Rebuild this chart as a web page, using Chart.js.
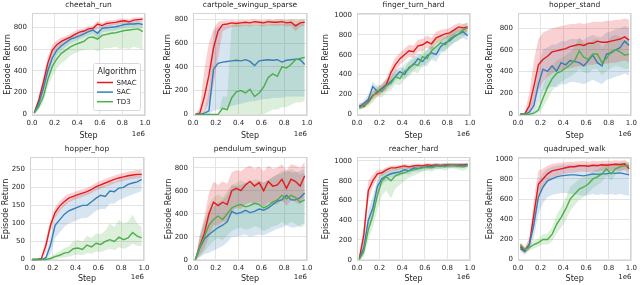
<!DOCTYPE html>
<html>
<head>
<meta charset="utf-8">
<script src="https://cdn.jsdelivr.net/npm/chart.js@4.4.0/dist/chart.umd.min.js"></script>
<style>
  body { margin: 0; background: #fff; width: 640px; height: 285px; position: relative; overflow: hidden; }
  canvas { position: absolute; }
</style>
</head>
<body>
<canvas id="c0" width="160" height="142" style="left:0;top:0"></canvas>
<canvas id="c1" width="160" height="142" style="left:160px;top:0"></canvas>
<canvas id="c2" width="160" height="142" style="left:320px;top:0"></canvas>
<canvas id="c3" width="160" height="142" style="left:480px;top:0"></canvas>
<canvas id="c4" width="160" height="143" style="left:0;top:142px"></canvas>
<canvas id="c5" width="160" height="143" style="left:160px;top:142px"></canvas>
<canvas id="c6" width="160" height="143" style="left:320px;top:142px"></canvas>
<canvas id="c7" width="160" height="143" style="left:480px;top:142px"></canvas>
<script>
// x positions of the evaluations (in units of 1e6 steps)
const steps = [0.02, 0.06, 0.10, 0.14, 0.18, 0.22, 0.26, 0.30, 0.34, 0.38, 0.42, 0.46, 0.50,
               0.54, 0.58, 0.62, 0.66, 0.70, 0.74, 0.78, 0.82, 0.86, 0.90, 0.94, 0.98];
const algorithms = ["SMAC", "SAC", "TD3"];
const xTicks = [0, 0.2, 0.4, 0.6, 0.8, 1.0];
const yTicks800 = [0, 200, 400, 600, 800];
const yTicks1000 = [0, 200, 400, 600, 800, 1000];
const yTicks250 = [0, 50, 100, 150, 200, 250];

// cheetah_run
const cheetahSmac = [15, 130, 290, 470, 590, 640, 670, 690, 710, 735, 755, 765, 785, 790, 830, 815, 835, 840, 845, 855, 860, 850, 865, 870, 875];
const cheetahSmacLo = [5, 90, 230, 400, 540, 600, 635, 660, 680, 705, 725, 740, 760, 765, 790, 790, 805, 815, 820, 830, 835, 825, 840, 845, 850];
const cheetahSmacHi = [25, 170, 350, 530, 640, 680, 705, 720, 740, 765, 785, 790, 810, 815, 860, 840, 860, 865, 870, 880, 880, 875, 890, 890, 895];
const cheetahSac = [12, 100, 235, 400, 520, 590, 630, 660, 690, 705, 720, 740, 760, 775, 745, 790, 795, 800, 805, 815, 825, 830, 830, 835, 825];
const cheetahSacLo = [4, 60, 180, 340, 460, 540, 585, 620, 650, 670, 690, 705, 725, 740, 690, 755, 760, 765, 770, 785, 795, 800, 800, 805, 795];
const cheetahSacHi = [20, 140, 290, 460, 580, 640, 675, 700, 725, 740, 750, 770, 790, 805, 790, 820, 825, 830, 835, 845, 850, 855, 855, 860, 850];
const cheetahTd3 = [10, 70, 160, 320, 440, 510, 560, 590, 620, 640, 655, 670, 705, 710, 690, 725, 735, 745, 750, 760, 770, 775, 780, 785, 760];
const cheetahTd3Lo = [2, 40, 110, 250, 350, 420, 470, 500, 540, 560, 580, 590, 600, 600, 580, 600, 610, 610, 620, 600, 610, 600, 620, 610, 590];
const cheetahTd3Hi = [18, 100, 220, 390, 520, 590, 640, 670, 690, 710, 720, 740, 760, 770, 760, 780, 790, 800, 800, 810, 820, 820, 830, 830, 820];

// cartpole_swingup_sparse
const cartpoleSmac = [0, 10, 150, 330, 560, 700, 755, 760, 770, 765, 770, 775, 770, 780, 775, 770, 780, 775, 775, 780, 770, 775, 745, 770, 775];
const cartpoleSmacLo = [0, 0, 20, 100, 250, 480, 700, 720, 735, 735, 740, 745, 740, 750, 745, 740, 750, 745, 745, 750, 740, 745, 700, 740, 745];
const cartpoleSmacHi = [0, 60, 380, 600, 720, 780, 790, 790, 795, 790, 795, 795, 795, 800, 795, 795, 800, 795, 800, 800, 795, 800, 790, 795, 800];
const cartpoleSac = [0, 0, 10, 30, 380, 430, 440, 445, 450, 455, 450, 460, 445, 410, 450, 455, 460, 455, 460, 440, 455, 460, 465, 460, 420];
const cartpoleSacLo = [0, 0, 0, 0, 30, 40, 50, 60, 70, 80, 90, 100, 110, 110, 120, 130, 130, 140, 140, 140, 150, 150, 150, 150, 150];
const cartpoleSacHi = [0, 0, 30, 200, 700, 740, 745, 750, 750, 750, 750, 750, 750, 750, 750, 755, 755, 760, 760, 760, 760, 760, 760, 760, 760];
const cartpoleTd3 = [0, 0, 0, 0, 0, 0, 50, 40, 140, 190, 200, 180, 210, 150, 180, 230, 310, 340, 320, 400, 390, 420, 460, 470, 480];
const cartpoleTd3Lo = [0, 0, 0, 0, 0, 0, 0, 0, 0, 0, 0, 0, 0, 0, 0, 0, 20, 40, 40, 60, 60, 80, 100, 100, 110];
const cartpoleTd3Hi = [0, 0, 0, 0, 0, 0, 150, 150, 760, 770, 770, 775, 780, 780, 780, 785, 790, 790, 790, 795, 795, 800, 800, 800, 800];

// finger_turn_hard
const fingerSmac = [90, 80, 130, 190, 220, 260, 300, 420, 500, 560, 600, 640, 630, 690, 700, 730, 710, 770, 790, 810, 820, 850, 880, 870, 880];
const fingerSmacLo = [60, 55, 100, 150, 180, 210, 240, 350, 430, 500, 540, 580, 570, 630, 640, 670, 650, 710, 730, 760, 770, 800, 830, 820, 830];
const fingerSmacHi = [120, 110, 170, 230, 260, 310, 360, 480, 570, 620, 660, 700, 690, 750, 760, 790, 770, 830, 850, 860, 870, 900, 920, 910, 920];
const fingerSac = [70, 110, 150, 280, 230, 260, 290, 330, 380, 430, 400, 470, 500, 560, 530, 590, 620, 600, 680, 720, 740, 780, 810, 830, 790];
const fingerSacLo = [50, 80, 110, 220, 190, 220, 250, 280, 330, 380, 350, 410, 440, 490, 470, 520, 550, 530, 610, 650, 680, 720, 750, 770, 740];
const fingerSacHi = [95, 140, 200, 330, 270, 300, 340, 380, 430, 480, 460, 530, 560, 620, 590, 650, 690, 670, 740, 780, 800, 840, 860, 880, 850];
const fingerTd3 = [60, 90, 120, 180, 240, 230, 290, 310, 380, 360, 430, 460, 510, 490, 580, 560, 640, 680, 720, 700, 760, 790, 810, 850, 870];
const fingerTd3Lo = [40, 60, 80, 120, 180, 170, 220, 240, 300, 290, 350, 380, 430, 410, 500, 480, 560, 600, 640, 620, 690, 720, 740, 780, 800];
const fingerTd3Hi = [90, 120, 160, 240, 300, 290, 360, 380, 460, 430, 510, 540, 590, 570, 660, 640, 720, 760, 800, 780, 830, 860, 880, 910, 930];

// hopper_stand
const standSmac = [0, 5, 80, 260, 460, 510, 540, 580, 590, 600, 610, 630, 640, 650, 640, 660, 660, 680, 670, 670, 680, 690, 700, 720, 690];
const standSmacLo = [0, 0, 20, 100, 220, 300, 350, 380, 400, 410, 420, 430, 440, 450, 440, 460, 460, 470, 470, 470, 480, 480, 490, 500, 480];
const standSmacHi = [0, 20, 200, 500, 700, 760, 780, 800, 810, 820, 830, 840, 840, 850, 840, 850, 860, 860, 860, 870, 870, 880, 880, 890, 880];
const standSac = [0, 0, 20, 80, 280, 420, 400, 450, 400, 480, 460, 500, 490, 480, 450, 500, 550, 480, 450, 560, 570, 600, 620, 680, 640];
const standSacLo = [0, 0, 0, 20, 100, 220, 240, 260, 250, 280, 280, 300, 300, 290, 280, 300, 320, 300, 280, 320, 330, 350, 360, 380, 360];
const standSacHi = [0, 0, 60, 200, 450, 600, 620, 650, 650, 680, 680, 700, 700, 700, 690, 720, 740, 720, 720, 760, 770, 790, 800, 820, 800];
const standTd3 = [0, 0, 0, 10, 40, 150, 250, 330, 380, 400, 430, 460, 500, 590, 530, 510, 560, 560, 480, 520, 580, 600, 580, 550, 560];
const standTd3Lo = [0, 0, 0, 0, 10, 60, 140, 220, 270, 300, 330, 350, 380, 420, 390, 380, 420, 420, 360, 400, 430, 450, 440, 420, 420];
const standTd3Hi = [0, 0, 0, 30, 90, 260, 380, 450, 500, 520, 550, 580, 620, 720, 660, 640, 690, 700, 620, 660, 720, 740, 720, 690, 700];

// hopper_hop
const hopSmac = [0, 0, 3, 40, 95, 130, 148, 160, 170, 175, 180, 184, 188, 194, 202, 207, 212, 217, 222, 226, 229, 232, 234, 236, 236];
const hopSmacLo = [0, 0, 0, 20, 78, 115, 134, 148, 159, 164, 169, 174, 178, 184, 191, 196, 201, 206, 211, 215, 218, 221, 223, 225, 226];
const hopSmacHi = [0, 0, 6, 58, 110, 145, 162, 174, 182, 186, 191, 195, 199, 205, 213, 218, 223, 228, 233, 237, 240, 243, 246, 248, 248];
const hopSac = [0, 0, 0, 5, 40, 95, 110, 125, 135, 140, 145, 150, 150, 160, 170, 178, 175, 190, 188, 198, 200, 208, 212, 215, 222];
const hopSacLo = [0, 0, 0, 0, 15, 60, 75, 90, 100, 105, 110, 115, 115, 125, 135, 140, 140, 155, 155, 165, 170, 175, 180, 185, 190];
const hopSacHi = [0, 0, 0, 12, 65, 125, 140, 155, 165, 172, 178, 182, 185, 192, 200, 206, 205, 215, 215, 222, 225, 230, 232, 235, 240];
const hopTd3 = [0, 0, 0, 0, 3, 8, 12, 18, 20, 30, 32, 28, 40, 35, 45, 42, 50, 55, 50, 62, 55, 60, 75, 65, 60];
const hopTd3Lo = [0, 0, 0, 0, 0, 2, 4, 6, 8, 12, 14, 12, 18, 16, 22, 20, 26, 30, 26, 34, 30, 34, 44, 38, 36];
const hopTd3Hi = [0, 0, 0, 0, 8, 16, 22, 32, 36, 50, 55, 50, 66, 60, 72, 70, 80, 100, 90, 110, 100, 105, 125, 100, 90];

// pendulum_swingup
const pendulumSmac = [0, 120, 230, 400, 500, 470, 500, 480, 600, 620, 600, 650, 680, 640, 670, 600, 680, 640, 650, 700, 620, 700, 680, 640, 730];
const pendulumSmacLo = [0, 40, 100, 200, 300, 300, 330, 330, 420, 450, 440, 480, 500, 480, 500, 460, 500, 480, 480, 520, 470, 520, 500, 480, 540];
const pendulumSmacHi = [0, 220, 380, 580, 680, 650, 680, 660, 760, 780, 770, 800, 820, 790, 810, 770, 820, 790, 800, 830, 780, 830, 820, 800, 850];
const pendulumSac = [0, 100, 180, 220, 250, 280, 300, 330, 420, 400, 410, 430, 410, 420, 440, 430, 450, 480, 510, 520, 560, 520, 520, 540, 580];
const pendulumSacLo = [0, 20, 50, 60, 80, 100, 120, 150, 200, 200, 210, 220, 200, 210, 220, 210, 230, 250, 270, 280, 300, 280, 280, 300, 320];
const pendulumSacHi = [0, 200, 330, 420, 460, 500, 520, 560, 650, 640, 650, 670, 650, 660, 680, 670, 690, 720, 740, 750, 780, 760, 760, 770, 800];
const pendulumTd3 = [0, 110, 200, 300, 350, 380, 350, 400, 450, 470, 480, 460, 470, 490, 480, 450, 470, 500, 520, 560, 530, 560, 540, 500, 520];
const pendulumTd3Lo = [0, 30, 70, 120, 160, 190, 170, 210, 250, 270, 280, 260, 270, 290, 280, 250, 270, 290, 300, 330, 300, 330, 310, 280, 300];
const pendulumTd3Hi = [0, 200, 340, 480, 540, 570, 540, 600, 650, 670, 690, 670, 680, 700, 690, 670, 690, 720, 740, 780, 760, 790, 770, 740, 760];

// reacher_hard
const reacherSmac = [10, 250, 700, 800, 870, 880, 910, 930, 930, 940, 950, 940, 950, 955, 950, 960, 955, 960, 955, 960, 960, 955, 960, 960, 965];
const reacherSmacLo = [0, 150, 600, 740, 830, 850, 880, 900, 905, 915, 925, 915, 925, 930, 925, 935, 930, 935, 930, 935, 935, 930, 935, 935, 940];
const reacherSmacHi = [20, 350, 800, 860, 910, 910, 940, 955, 955, 960, 970, 965, 970, 975, 970, 980, 975, 980, 975, 980, 980, 975, 980, 980, 985];
const reacherSac = [5, 120, 400, 520, 740, 820, 850, 870, 880, 890, 910, 900, 930, 925, 935, 940, 945, 950, 945, 955, 950, 960, 950, 955, 960];
const reacherSacLo = [0, 60, 300, 420, 650, 760, 800, 830, 840, 850, 870, 860, 890, 890, 900, 910, 915, 920, 915, 930, 925, 935, 925, 930, 935];
const reacherSacHi = [15, 200, 500, 640, 820, 870, 890, 905, 915, 925, 940, 935, 955, 955, 960, 965, 970, 975, 970, 975, 975, 980, 975, 980, 980];
const reacherTd3 = [0, 80, 300, 450, 650, 800, 840, 800, 850, 870, 880, 900, 910, 920, 930, 935, 930, 945, 950, 940, 955, 950, 945, 940, 950];
const reacherTd3Lo = [0, 30, 200, 330, 500, 650, 700, 620, 720, 760, 800, 830, 850, 870, 890, 900, 890, 910, 920, 900, 925, 920, 910, 900, 920];
const reacherTd3Hi = [10, 150, 400, 570, 780, 900, 920, 920, 930, 940, 940, 950, 955, 960, 965, 970, 965, 975, 975, 970, 980, 980, 975, 970, 975];

// quadruped_walk
const quadSmac = [130, 90, 150, 450, 750, 800, 850, 880, 890, 900, 910, 920, 920, 930, 930, 925, 935, 930, 940, 935, 940, 945, 940, 950, 900];
const quadSmacLo = [100, 60, 100, 300, 600, 700, 770, 810, 830, 840, 850, 860, 860, 870, 870, 865, 875, 870, 880, 875, 880, 885, 880, 890, 840];
const quadSmacHi = [160, 120, 220, 600, 880, 900, 930, 950, 955, 960, 965, 970, 970, 975, 975, 970, 980, 975, 980, 980, 980, 985, 980, 990, 960];
const quadSac = [110, 80, 150, 350, 620, 720, 780, 800, 820, 830, 835, 840, 840, 835, 830, 840, 850, 845, 850, 850, 860, 855, 860, 850, 840];
const quadSacLo = [80, 50, 100, 220, 450, 560, 620, 640, 650, 660, 660, 650, 650, 640, 630, 640, 650, 640, 650, 640, 650, 640, 650, 640, 630];
const quadSacHi = [140, 110, 200, 480, 780, 860, 900, 920, 930, 940, 940, 945, 945, 945, 940, 945, 950, 950, 950, 955, 960, 955, 960, 955, 950];
const quadTd3 = [150, 100, 120, 150, 170, 200, 200, 250, 350, 420, 500, 600, 650, 700, 720, 750, 800, 820, 850, 900, 850, 900, 920, 930, 930];
const quadTd3Lo = [120, 70, 90, 110, 130, 150, 150, 180, 260, 320, 390, 480, 540, 590, 620, 660, 710, 740, 770, 830, 780, 840, 870, 890, 890];
const quadTd3Hi = [180, 130, 150, 190, 210, 250, 260, 320, 440, 520, 610, 720, 760, 800, 810, 840, 880, 890, 920, 950, 920, 955, 965, 970, 965];

const lineColors = ["#e41a1c", "#377eb8", "#4daf4a"];
const bandColors = ["rgba(228,26,28,0.2)", "rgba(55,126,184,0.2)", "rgba(77,175,74,0.2)"];
const FONT = "'DejaVu Sans', sans-serif";
const TEXT = "#262626";

// box = chart area inside each canvas: [left, right, top, bottom]
const panels = [
  { title: "cheetah_run", ymin: -16, ymax: 931, yTicks: yTicks800, box: [32, 145, 13, 116], ylab: 3, legend: true,
    series: [[cheetahSmac, cheetahSmacLo, cheetahSmacHi], [cheetahSac, cheetahSacLo, cheetahSacHi], [cheetahTd3, cheetahTd3Lo, cheetahTd3Hi]] },
  { title: "cartpole_swingup_sparse", ymin: -14, ymax: 853, yTicks: yTicks800, box: [33, 147, 13, 116], ylab: 3.5,
    series: [[cartpoleSmac, cartpoleSmacLo, cartpoleSmacHi], [cartpoleSac, cartpoleSacLo, cartpoleSacHi], [cartpoleTd3, cartpoleTd3Lo, cartpoleTd3Hi]] },
  { title: "finger_turn_hard", ymin: -17, ymax: 1020, yTicks: yTicks1000, box: [37, 150, 13, 116], ylab: 1.5,
    series: [[fingerSmac, fingerSmacLo, fingerSmacHi], [fingerSac, fingerSacLo, fingerSacHi], [fingerTd3, fingerTd3Lo, fingerTd3Hi]] },
  { title: "hopper_stand", ymin: -16, ymax: 942, yTicks: yTicks800, box: [38, 153, 13, 116], ylab: 4.7,
    series: [[standSmac, standSmacLo, standSmacHi], [standSac, standSacLo, standSacHi], [standTd3, standTd3Lo, standTd3Hi]] },
  { title: "hopper_hop", ymin: -4, ymax: 284, yTicks: yTicks250, box: [30, 144, 15, 119], ylab: 1.5,
    series: [[hopSmac, hopSmacLo, hopSmacHi], [hopSac, hopSacLo, hopSacHi], [hopTd3, hopTd3Lo, hopTd3Hi]] },
  { title: "pendulum_swingup", ymin: -11, ymax: 893, yTicks: yTicks800, box: [33, 147, 15, 119], ylab: 3.9,
    series: [[pendulumSmac, pendulumSmacLo, pendulumSmacHi], [pendulumSac, pendulumSacLo, pendulumSacHi], [pendulumTd3, pendulumTd3Lo, pendulumTd3Hi]] },
  { title: "reacher_hard", ymin: -13, ymax: 1040, yTicks: yTicks1000, box: [37, 150, 15, 119], ylab: 1.5,
    series: [[reacherSmac, reacherSmacLo, reacherSmacHi], [reacherSac, reacherSacLo, reacherSacHi], [reacherTd3, reacherTd3Lo, reacherTd3Hi]] },
  { title: "quadruped_walk", ymin: -13, ymax: 1017, yTicks: yTicks1000, box: [38, 153, 15, 119], ylab: 4.9,
    series: [[quadSmac, quadSmacLo, quadSmacHi], [quadSac, quadSacLo, quadSacHi], [quadTd3, quadTd3Lo, quadTd3Hi]] }
];

const toXY = arr => arr.map((v, i) => ({ x: steps[i], y: v }));

// light grey frame round the plot area, like seaborn's whitegrid spines
const framePlugin = {
  id: 'frame',
  beforeDatasetsDraw(chart) {
    const a = chart.chartArea, ctx = chart.ctx;
    ctx.save();
    ctx.strokeStyle = '#d4d4d4';
    ctx.lineWidth = 1;
    ctx.strokeRect(Math.round(a.left) + 0.5, Math.round(a.top) + 0.5, Math.round(a.right - a.left) - 1, Math.round(a.bottom - a.top) - 1);
    ctx.restore();
  }
};

// "1e6" offset text under the right end of the x axis
const offsetPlugin = {
  id: 'offsetText',
  afterDraw(chart) {
    const ctx = chart.ctx;
    ctx.save();
    ctx.font = "7px " + FONT;
    ctx.fillStyle = TEXT;
    ctx.textAlign = 'right';
    ctx.textBaseline = 'middle';
    ctx.fillText('1e6', chart.chartArea.right, chart.height - 8);
    ctx.restore();
  }
};

// boxed legend inside the first panel
const legendPlugin = {
  id: 'boxLegend',
  afterDraw(chart, args, opts) {
    if (!opts.show) return;
    const ctx = chart.ctx;
    const x0 = 93.5, y0 = 63.5, w = 47, h = 47;
    ctx.save();
    ctx.fillStyle = 'rgba(255,255,255,0.85)';
    ctx.strokeStyle = '#d8d8d8';
    ctx.lineWidth = 1;
    ctx.beginPath();
    ctx.roundRect(x0, y0, w, h, 2);
    ctx.fill();
    ctx.stroke();
    ctx.fillStyle = TEXT;
    ctx.textBaseline = 'middle';
    ctx.font = "8px " + FONT;
    ctx.textAlign = 'center';
    ctx.fillText('Algorithm', x0 + w / 2, y0 + 8);
    ctx.font = "7px " + FONT;
    ctx.textAlign = 'left';
    algorithms.forEach((name, i) => {
      const y = y0 + 19 + i * 9.6;
      ctx.strokeStyle = lineColors[i];
      ctx.lineWidth = 1.5;
      ctx.beginPath();
      ctx.moveTo(x0 + 3.5, y);
      ctx.lineTo(x0 + 19.5, y);
      ctx.stroke();
      ctx.fillText(name, x0 + 23, y + 0.5);
    });
    ctx.restore();
  }
};

panels.forEach((p, k) => {
  const canvas = document.getElementById('c' + k);
  const [L, R, T, B] = p.box;
  const W = canvas.width, H = canvas.height;
  const datasets = [];
  p.series.forEach((s, i) => {
    datasets.push({ label: algorithms[i] + ' low', data: toXY(s[1]), borderColor: 'rgba(0,0,0,0)', borderWidth: 0,
      pointRadius: 0, fill: false, order: 5 });
    datasets.push({ label: algorithms[i] + ' high', data: toXY(s[2]), borderColor: 'rgba(0,0,0,0)', borderWidth: 0,
      pointRadius: 0, fill: '-1', backgroundColor: bandColors[i], order: 5 });
  });
  p.series.forEach((s, i) => {
    datasets.push({ label: algorithms[i], data: toXY(s[0]), borderColor: lineColors[i], borderWidth: 1.4,
      pointRadius: 0, fill: false, order: 3 - i });
  });

  new Chart(canvas, {
    type: 'line',
    data: { datasets: datasets },
    plugins: [framePlugin, offsetPlugin, legendPlugin],
    options: {
      responsive: false,
      animation: false,
      layout: { padding: { left: 0, right: W - R, top: 0, bottom: 0 } },
      elements: { line: { tension: 0 } },
      plugins: {
        legend: { display: false },
        tooltip: { enabled: false },
        boxLegend: { show: !!p.legend },
        title: {
          display: true, text: p.title, color: TEXT, fullSize: false,
          font: { family: FONT, size: 7.5, weight: 'normal', lineHeight: 1.2 },
          padding: { top: T - 12, bottom: 3 }
        }
      },
      scales: {
        x: {
          type: 'linear', min: 0, max: 1.0,
          afterBuildTicks: ax => { ax.ticks = xTicks.map(v => ({ value: v })); },
          afterFit: ax => { ax.height = H - B; },
          grid: { color: '#e4e4e4', drawTicks: false },
          border: { display: false },
          ticks: { color: TEXT, font: { family: FONT, size: 7 }, padding: 3, maxRotation: 0,
                   callback: v => v.toFixed(1) },
          title: { display: true, text: 'Step', color: TEXT, font: { family: FONT, size: 8 },
                   padding: { top: 0, bottom: H - B > 26.5 ? 2.2 : 1.2 } }
        },
        y: {
          type: 'linear', min: p.ymin, max: p.ymax,
          afterBuildTicks: ax => { ax.ticks = p.yTicks.map(v => ({ value: v })); },
          afterFit: ax => { ax.width = L; },
          grid: { color: '#e4e4e4', drawTicks: false },
          border: { display: false },
          ticks: { color: TEXT, font: { family: FONT, size: 7 }, padding: 5,
                   callback: v => String(v) },
          title: { display: true, text: 'Episode Return', color: TEXT, font: { family: FONT, size: 8 },
                   padding: { top: p.ylab, bottom: 0 } }
        }
      }
    }
  });
});
</script>
</body>
</html>
